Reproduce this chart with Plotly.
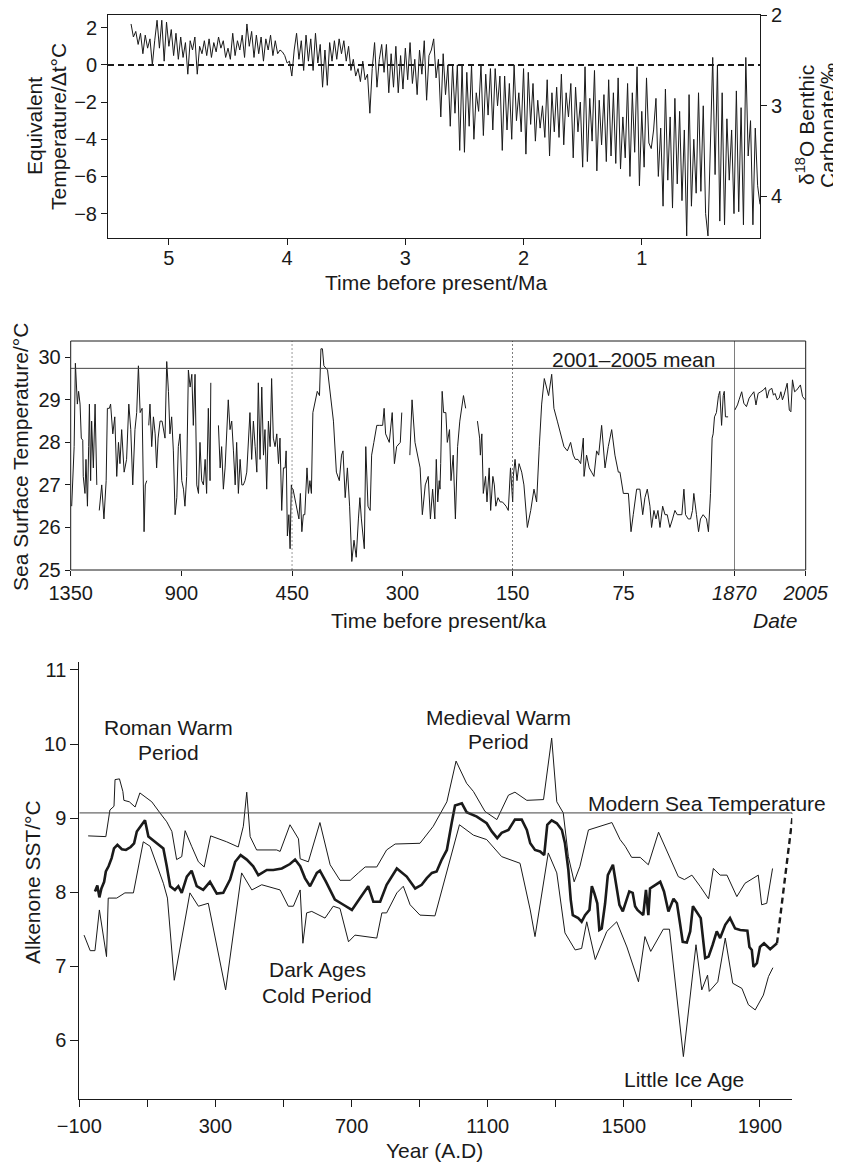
import plotly.graph_objects as go

W, H = 841, 1165          # size of the reference picture
OFF = 8                   # page margin that the browser puts around the figure
WF, HF = W - OFF, H - OFF  # figure size so that figure + margin fills the window
FONT = "Liberation Sans, Arial, Helvetica, sans-serif"
INK = "#1a1a1a"

# ------------------------------------------------------------------ data
# Panel 1: equivalent temperature (delta t, deg C), sampled every 0.02 Ma from 5.32 Ma
top_temp = [
    2.2, 1.5, 1.8, 1.1, 1.7, 0.6, 1.6, 0.9, 1.4, 0.0,
    1.3, 2.4, 0.9, 2.4, 0.2, 2.3, 1.0, 1.9, 0.5, 1.7,
    0.3, 1.5, 0.4, 1.2, -0.5, 1.3, 0.8, 1.5, -0.5, 1.0,
    0.6, 1.3, 0.5, 1.4, 0.4, 1.2, 0.7, 1.5, 0.9, 1.3,
    0.4, 0.9, 0.3, 1.7, 0.5, 1.3, 0.8, 1.6, 0.4, 2.2,
    1.0, 1.8, 0.4, 1.6, 0.6, 1.5, 0.2, 1.4, 0.8, 1.6,
    0.5, 1.3, 0.6, 0.8, 0.7, 0.5, 0.1, 0.2, -0.6, 0.8,
    1.7, 0.3, 1.3, -0.3, 1.6, 0.2, 1.4, -0.3, 1.7, 0.1,
    1.1, -1.2, 0.8, -1.1, 1.2, 0.2, 1.3, 0.3, 1.4, 0.6,
    1.3, 0.2, 1.0, -0.3, 0.3, -0.6, -0.2, -0.9, 0.2, -0.8,
    -0.5, -2.6, -0.2, 1.2, -1.2, 0.3, 1.1, -0.4, 1.1, -1.5,
    0.6, -1.2, 1.0, -1.5, 0.5, -1.3, 0.9, -0.8, 1.2, -1.0,
    0.3, -1.6, 0.8, -0.5, 1.3, -1.9, 0.5, 0.8, 1.4, -0.7,
    0.3, -2.8, 0.6, -1.6, 0.0, -3.3, 0.0, -2.6, 0.0, -4.6,
    0.0, -4.7, -0.4, -3.3, 0.0, -4.0, -1.5, -2.5, 0.0, -3.8,
    -0.5, -2.7, -0.2, -3.5, -0.2, -2.2, -0.6, -4.6, -0.6, -3.5,
    -1.0, -4.0, 0.0, -3.0, -1.5, -3.6, -0.2, -4.8, -0.4, -3.2,
    -1.0, -4.1, -1.9, -3.4, -2.2, -3.9, -0.8, -4.9, -1.5, -3.6,
    -1.2, -3.9, -0.5, -4.3, -1.5, -2.8, -1.0, -5.0, -1.2, -3.6,
    -2.0, -5.5, -0.1, -5.2, -1.8, -4.1, -0.3, -5.7, -1.9, -4.3,
    -1.6, -5.2, -0.8, -4.9, -1.5, -5.3, -0.7, -5.6, -2.8, -5.0,
    -1.0, -6.0, -1.5, -4.7, -0.1, -6.5, -2.5, -5.5, -0.7, -4.2,
    -4.5, -3.5, -1.8, -6.0, -3.4, -7.6, -1.3, -6.2, -2.8, -7.7,
    -1.8, -6.4, -2.5, -7.3, -3.5, -9.2, -1.6, -7.6, -4.0, -6.9,
    -1.5, -6.8, -2.2, -8.0, -9.2, -4.8, 0.4, -5.9, 0.0, -8.4,
    -1.5, -8.6, -2.9, -6.2, -3.5, -8.0, -1.4, -7.9, -2.3, -8.6,
    0.4, -4.9, -3.0, -8.6, -3.4, -6.5, -7.5,
]
top_age_start, top_age_step = 5.32, 0.02
top_age = [round(top_age_start - top_age_step * i, 2) for i in range(len(top_temp))]
top_ref_temp = 0.0

# Panel 2: sea surface temperature, proxy record (ka before present), None = gap
mid_age_ka = [
    1346, 1336, 1331, 1323, 1318, 1312, 1307, 1301, 1299, 1292, 1288, 1282, 1277, 1274, 1269, 1265, 1258, 1251, 1244, None,
    1234, 1224, 1215, 1206, 1201, 1193, 1188, 1179, 1171, 1163, 1156, 1150, 1143, 1133, 1123, 1114, 1106, 1098, 1089, 1082,
    1075, 1068, 1060, 1052, 1047, 1041, None,
    1033, 1028, 1021, 1014, 1007, 1001, 995, 987, 979, 974, 967, 960, 953, 947, 940, 933, 926, 919, 913, 906,
    899, 892, 886, 879, 872, 865, 858, 852, 845, 838, 831, 825, 818, 811, 804, 798, 791, 784, 781, None,
    750, 743, 737, 730, 723, 716, 710, 703, 696, 689, 682, 676, 669, 662, 655, 649, 642, 635, 628, 622,
    615, 608, 601, 594, 588, 581, 574, 567, 561, 554, 547, 540, 534, 527, 520, 513, 506, 500, 493, 486,
    479, 475, 470, 464, 459, 454,
    449, 444, 441, 439, 437, 435, 433, 430, 428, 426, 424, 422, 419, 416, 413, 411, 409, 407, 402, 399,
    394, 390, 386, 383, 381, 378, 375, 372, 369, 366, 363, 360, 358, 356, 352, 350, 347, 344, 342, 339,
    335, 331, 327, 325, 323, 318, 314, 311, 308, 303, 301, None,
    290, 287, 283, 276, 273, 269, 265, 262, 259, 256, 254, 252, 250, 249, 248, 246, 244, 241, 239, 236,
    234, 231, 228, 225, 222, 217, 214, None,
    198, 195, 194, 192, 190, 187, 185, 182, 180, 177, 175, 173, 170, 167, 164, 159, 156, 153, 150,
    149.6, 148.4, 147.1, 145.7, 143.9, 142.4, 140.1, 137.8, 135.6, 133.8, 132.0, 130.4, 128.6, 127.0, 125.7,
    123.6, 122.1, 119.8, 117.6, 115.3, 113.0, 110.8, 109.0, 107.6, 105.8, 104.0, 102.2, 101.7, 100.0, 98.2,
    96.6, 95.0, 93.2, 91.8, 89.8, 87.5, 85.3, 83.0, 80.8, 78.5, 77.4, 75.1, 71.7, 69.9, 68.4, 66.1, 63.9,
    62.0, 60.5, 58.9, 57.1, 56.0, 54.4, 53.0, 51.7, 50.3, 48.5, 46.9, 45.4, 43.6, 41.8, 40.2, 38.6, 36.8,
    35.5, 34.1, 33.0, 31.2, 29.6, 28.3, 27.4, 25.6, 24.2, 22.9, 21.1, 18.8, 17.5, 16.1, 15.0, 14.3, 13.4,
    12.1, 10.7, 9.8, 8.6, 7.5, 6.8, 6.0, 4.2,
]
mid_sst = [
    26.5, 27.9, 29.86, 28.9, 29.2, 28.9, 28.1, 28.05, 27.2, 26.8, 27.6, 26.5, 27.9, 28.9, 27.1, 28.5, 27.4, 28.9, 27.0, None,
    26.4, 27.0, 26.2, 27.1, 28.8, 28.8, 28.9, 28.2, 28.6, 27.2, 28.0, 27.5, 28.3, 27.3, 27.6, 28.9, 28.3, 27.0, 28.3, 28.7,
    29.8, 28.7, 28.8, 25.9, 27.0, 27.1, None,
    28.4, 28.9, 27.9, 28.6, 28.2, 27.4, 28.1, 28.5, 28.5, 28.3, 28.1, 29.9, 29.2, 28.2, 28.6, 27.8, 26.3, 26.7, 27.9, 28.2,
    27.1, 26.9, 26.5, 27.2, 29.7, 29.3, 29.6, 28.4, 29.6, 27.0, 26.8, 28.0, 27.1, 27.0, 27.6, 26.8, 28.8, 27.1, 29.4, None,
    28.4, 27.4, 27.9, 26.9, 27.4, 28.5, 29.0, 28.3, 28.5, 27.8, 27.0, 28.0, 26.8, 27.6, 27.0, 27.0, 27.1, 27.3, 28.1, 28.7,
    27.6, 28.5, 27.9, 27.3, 29.4, 27.6, 29.3, 27.7, 28.3, 26.9, 28.5, 27.9, 29.5, 28.1, 27.9, 28.2, 27.5, 28.1, 26.4, 27.4,
    27.4, 27.8, 25.8, 26.3, 25.5, 27.0,
    26.9, 26.5, 26.2, 26.8, 25.9, 26.3, 26.3, 27.4, 26.8, 27.1, 26.8, 28.7, 29.0, 29.2, 29.1, 30.2, 30.2, 29.8, 29.7, 29.2,
    28.5, 27.3, 27.1, 27.7, 27.8, 26.7, 27.4, 26.5, 25.2, 25.7, 25.3, 26.2, 26.7, 26.2, 25.5, 27.9, 26.5, 26.4, 27.7, 28.0,
    28.4, 28.4, 28.4, 28.8, 28.2, 28.0, 28.7, 27.5, 27.9, 28.0, 28.7, None,
    27.7, 29.0, 28.0, 27.4, 26.3, 27.0, 27.2, 26.2, 26.9, 26.2, 27.6, 26.6, 27.1, 26.9, 27.5, 29.2, 28.7, 28.7, 28.0, 28.3,
    27.1, 27.7, 26.2, 27.9, 28.5, 29.1, 28.8, None,
    28.5, 28.1, 27.7, 28.2, 26.8, 27.2, 26.6, 27.4, 26.4, 27.2, 27.0, 26.5, 26.7, 26.6, 26.6, 26.5, 26.4, 27.4, 26.6,
    27.2, 27.6, 27.1, 27.5, 27.3, 27.0, 26.0, 26.4, 26.9, 26.6, 27.9, 28.9, 29.5, 29.3, 29.1,
    29.6, 28.8, 28.5, 28.2, 27.9, 27.8, 28.0, 27.7, 27.6, 27.6, 27.5, 28.1, 27.2, 27.7, 27.4,
    27.3, 27.2, 27.8, 27.7, 28.4, 27.4, 27.9, 28.3, 27.7, 27.3, 27.3, 26.8, 26.8, 25.9, 26.3, 26.9, 26.9,
    26.3, 26.7, 26.9, 26.5, 26.0, 26.4, 26.2, 26.4, 26.0, 26.5, 26.3, 26.3, 26.0, 26.2, 26.4, 26.3, 26.3,
    26.3, 26.9, 26.3, 26.2, 26.2, 26.4, 26.8, 26.3, 25.9, 26.2, 26.3, 26.2, 25.9, 26.8, 28.1, 28.2, 28.6,
    28.7, 29.1, 29.2, 28.4, 29.1, 29.2, 28.6, 28.6,
]
# Panel 2: instrumental record (calendar years)
mid_year = [1871, 1876, 1879, 1884, 1888, 1893, 1898, 1903, 1907, 1911, 1915, 1920, 1925, 1929, 1932, 1936,
            1941, 1944, 1947, 1951, 1955, 1958, 1961, 1964, 1967, 1970, 1974, 1977, 1980, 1984, 1988, 1992,
            1995, 1999, 2004]
mid_year_sst = [28.76, 28.88, 29.0, 29.19, 28.92, 28.84, 29.04, 29.11, 29.19, 28.88, 29.15, 29.19, 29.23, 29.29,
                29.04, 29.23, 29.27, 29.11, 29.15, 29.0, 29.04, 29.19, 29.0, 29.11, 29.23, 29.39, 28.76, 28.72,
                29.47, 29.19, 29.23, 29.31, 29.35, 29.08, 29.0]
mid_mean_2001_2005 = 29.74

# Panel 3: alkenone SST (A.D.)
upper_year = [-74, -22, -10, 2, 5, 18, 28, 31, 47, 64, 78, 113, 137, 157, 172, 186, 201, 211, 230, 250,
              267, 286, 333, 367, 382, 392, 402, 421, 480, 490, 519, 544, 549, 573, 607, 637, 666, 696, 720, 740,
              774, 803, 828, 901, 940, 980, 1007, 1038, 1058, 1092, 1127, 1161, 1180, 1215, 1264, 1288, 1303, 1322,
              1337, 1354, 1371, 1396, 1465, 1489, 1504, 1523, 1548, 1572, 1602, 1626, 1646, 1660, 1678, 1700, 1724,
              1749, 1763, 1783, 1803, 1827, 1832, 1856, 1881, 1895, 1905, 1920, 1937]
upper_sst = [8.76, 8.75, 9.11, 9.16, 9.52, 9.53, 9.36, 9.24, 9.22, 9.15, 9.34, 9.22, 9.07, 8.95, 8.82, 8.44, 8.48,
             8.83, 8.62, 8.41, 8.34, 8.76, 8.68, 8.61, 8.89, 9.35, 8.75, 8.57, 8.57, 8.55, 8.91, 8.72, 8.45, 8.41,
             8.94, 8.37, 8.16, 8.16, 8.26, 8.34, 8.34, 8.57, 8.65, 8.66, 8.89, 9.22, 9.77, 9.47, 9.36, 9.09, 8.98,
             9.31, 9.35, 9.24, 9.25, 10.08, 9.22, 9.07, 8.48, 8.14, 8.35, 8.84, 8.94, 8.71, 8.62, 8.47, 8.47, 8.37,
             8.81, 8.57, 8.37, 8.21, 8.17, 8.23, 8.08, 7.91, 8.32, 8.23, 8.23, 7.99, 7.94, 8.12, 8.19, 8.23, 7.83,
             7.85, 8.32]
lower_year = [-86, -68, -54, -41, -20, -15, 10, 34, 59, 88, 108, 132, 147, 159, 179, 225, 250, 279, 330, 377,
              407, 436, 490, 514, 529, 549, 557, 568, 583, 622, 646, 666, 691, 710, 740, 774, 789, 803, 833, 852,
              872, 901, 945, 980, 1017, 1058, 1097, 1141, 1195, 1225, 1239, 1278, 1303, 1327, 1357, 1376, 1391,
              1416, 1450, 1479, 1509, 1543, 1562, 1579, 1616, 1634, 1675, 1712, 1729, 1746, 1751, 1776, 1798, 1820,
              1847, 1866, 1886, 1910, 1925, 1938]
lower_sst = [7.42, 7.21, 7.21, 7.76, 7.13, 7.92, 7.92, 7.99, 7.99, 8.68, 8.62, 8.30, 8.12, 7.92, 6.81, 7.99, 7.81,
             7.85, 6.68, 8.26, 8.03, 8.10, 8.03, 7.81, 7.81, 8.03, 7.31, 7.72, 7.74, 7.65, 7.81, 7.78, 7.33, 7.42,
             7.40, 7.38, 7.72, 7.72, 7.99, 8.08, 7.83, 7.69, 7.68, 8.26, 8.91, 8.77, 8.71, 8.48, 8.39, 7.76, 7.40,
             8.53, 8.26, 7.45, 7.22, 7.24, 7.60, 7.09, 7.47, 7.60, 7.26, 6.79, 7.40, 7.20, 7.50, 7.50, 5.78, 7.29,
             6.68, 6.88, 6.66, 6.79, 7.38, 6.77, 6.70, 6.48, 6.41, 6.61, 6.86, 6.98]
mean_year = [-54, -47, -41, -35, -27, -22, -14, -5, 2, 12, 25, 37, 51, 61, 69, 83, 93, 103, 128, 147,
             157, 167, 181, 191, 201, 216, 230, 245, 264, 284, 304, 323, 343, 358, 374, 392, 411, 426, 451, 470,
             495, 519, 534, 549, 563, 578, 598, 607, 625, 651, 676, 701, 725, 749, 764, 784, 803, 833, 862, 887,
             906, 921, 936, 950, 965, 980, 994, 1004, 1024, 1038, 1068, 1097, 1112, 1128, 1141, 1161, 1180, 1200,
             1215, 1225, 1239, 1254, 1266, 1275, 1288, 1303, 1318, 1327, 1337, 1344, 1350, 1366, 1376, 1386,
             1399, 1406, 1413, 1422, 1428, 1435, 1445, 1453, 1468, 1477, 1487, 1497, 1507, 1516, 1526, 1533,
             1540, 1557, 1565, 1572, 1577, 1587, 1607, 1618, 1631, 1646, 1656, 1665, 1673, 1685, 1695, 1703,
             1714, 1726, 1739, 1749, 1761, 1773, 1783, 1798, 1812, 1827, 1842, 1863, 1869, 1876, 1881, 1891,
             1900, 1912, 1930, 1950]
mean_sst = [8.01, 8.09, 7.93, 8.05, 8.14, 8.28, 8.35, 8.46, 8.59, 8.64, 8.58, 8.57, 8.61, 8.66, 8.82, 8.91, 8.97,
            8.75, 8.66, 8.59, 8.35, 8.08, 8.03, 8.08, 7.99, 8.21, 8.29, 8.08, 8.03, 8.14, 7.98, 7.99, 8.17, 8.41,
            8.50, 8.44, 8.35, 8.23, 8.30, 8.30, 8.32, 8.38, 8.44, 8.35, 8.19, 8.08, 8.26, 8.29, 8.14, 7.90, 7.83,
            7.76, 7.92, 8.08, 7.87, 7.87, 8.10, 8.32, 8.21, 8.05, 8.10, 8.19, 8.26, 8.28, 8.44, 8.57, 8.93, 9.17,
            9.20, 9.08, 9.02, 8.93, 8.82, 8.73, 8.80, 8.84, 8.98, 8.98, 8.84, 8.66, 8.57, 8.55, 8.50, 8.91, 8.97,
            8.93, 8.84, 8.66, 8.30, 7.90, 7.69, 7.65, 7.60, 7.69, 7.76, 8.08, 7.99, 7.85, 7.49, 7.51, 7.85, 8.23,
            8.37, 8.08, 7.83, 7.74, 7.87, 8.01, 7.99, 7.81, 7.76, 7.69, 8.03, 7.69, 8.05, 8.08, 8.14, 8.01, 7.74,
            7.91, 7.85, 7.58, 7.33, 7.32, 7.47, 7.81, 7.74, 7.65, 7.11, 7.13, 7.29, 7.47, 7.38, 7.56, 7.65, 7.51,
            7.49, 7.48, 7.26, 7.22, 6.99, 7.04, 7.26, 7.31, 7.23, 7.31]
link_year = [1950, 1997]
link_sst = [7.31, 9.07]
modern_sst = 9.07


# ------------------------------------------------------------------ helpers
def fx(px):
    """reference-picture x pixel -> paper fraction"""
    return (px - OFF) / WF


def fy(py):
    """reference-picture y pixel -> paper fraction"""
    return 1 - (py - OFF) / HF


TICKF = dict(family=FONT, size=20, color=INK)
TXT = dict(family=FONT, size=21, color=INK)


def ax_common(**kw):
    d = dict(showgrid=False, zeroline=False, ticks="outside", tickcolor=INK, tickwidth=1,
             linecolor=INK, linewidth=1, tickfont=TICKF, fixedrange=True, automargin=False,
             ticklabeloverflow="allow")
    d.update(kw)
    return d


def minus(v):
    return str(v).replace("-", "\u2212")


fig = go.Figure()

# ---- panel 1
fig.add_trace(go.Scatter(x=top_age, y=top_temp, mode="lines", line=dict(color=INK, width=1),
                         xaxis="x", yaxis="y", hoverinfo="skip"))
fig.add_trace(go.Scatter(x=[5, 0], y=[2, 4], mode="lines", line=dict(width=0), opacity=0,
                         xaxis="x", yaxis="y7", hoverinfo="skip"))

# ---- panel 2 (same proxy record drawn on the three broken-scale segments)
for xa in ["x2", "x3", "x4"]:
    fig.add_trace(go.Scatter(x=mid_age_ka, y=mid_sst, mode="lines", connectgaps=False,
                             line=dict(color=INK, width=1), xaxis=xa, yaxis="y2", hoverinfo="skip"))
fig.add_trace(go.Scatter(x=mid_year, y=mid_year_sst, mode="lines", line=dict(color=INK, width=1),
                         xaxis="x5", yaxis="y2", hoverinfo="skip"))

# ---- panel 3
fig.add_trace(go.Scatter(x=upper_year, y=upper_sst, mode="lines", line=dict(color=INK, width=1),
                         xaxis="x6", yaxis="y6", hoverinfo="skip"))
fig.add_trace(go.Scatter(x=lower_year, y=lower_sst, mode="lines", line=dict(color=INK, width=1),
                         xaxis="x6", yaxis="y6", hoverinfo="skip"))
fig.add_trace(go.Scatter(x=mean_year, y=mean_sst, mode="lines", line=dict(color=INK, width=2.6),
                         xaxis="x6", yaxis="y6", hoverinfo="skip"))
fig.add_trace(go.Scatter(x=link_year, y=link_sst, mode="lines",
                         line=dict(color=INK, width=2.4, dash="6px,4px"),
                         xaxis="x6", yaxis="y6", hoverinfo="skip"))

# ------------------------------------------------------------------ axes
top_yt = [-8, -6, -4, -2, 0, 2]
layout = dict(
    template="none",
    width=WF, height=HF, autosize=False, showlegend=False,
    margin=dict(l=0, r=0, t=0, b=0, pad=0, autoexpand=False),
    paper_bgcolor="white", plot_bgcolor="white",
    font=dict(family=FONT, color=INK),
    # panel 1
    xaxis=ax_common(domain=[fx(108), fx(760)], range=[5.515, 0.0], anchor="y",
                    tickvals=[5, 4, 3, 2, 1], ticklen=6, showline=True, mirror=True,
                    ticklabelstandoff=-4),
    yaxis=ax_common(domain=[fy(238), fy(14.5)], range=[-9.31, 2.71], anchor="x",
                    tickvals=top_yt, ticktext=[minus(v) for v in top_yt], ticklen=6,
                    showline=True, mirror=True),
    yaxis7=ax_common(overlaying="y", side="right", anchor="x", range=[4.464, 1.994],
                     tickvals=[2, 3, 4], ticklen=6, showline=False),
    # panel 2
    yaxis2=ax_common(domain=[fy(570), fy(341)], range=[25, 30.383], anchor="x2",
                     tickvals=[25, 26, 27, 28, 29, 30], ticklen=5, showline=False),
    xaxis2=ax_common(domain=[fx(70.7), fx(292.3)], range=[1350, 450], anchor="y2",
                     tickvals=[1350, 900, 450], ticklen=5, showline=False),
    xaxis3=ax_common(domain=[fx(292.3), fx(512.7)], range=[450, 150], anchor="y2",
                     tickvals=[300], ticklen=5, showline=False),
    xaxis4=ax_common(domain=[fx(512.7), fx(734.3)], range=[150, 0], anchor="y2",
                     tickvals=[150, 75], ticklen=5, showline=False),
    xaxis5=ax_common(domain=[fx(734.3), fx(805.7)], range=[1870, 2005], anchor="y2",
                     tickvals=[1870, 2005], ticktext=["<i>1870</i>", "<i>2005</i>"],
                     ticklen=5, showline=False),
    # panel 3
    xaxis6=ax_common(domain=[fx(79.3), fx(792.3)], range=[-100, 1995], anchor="y6",
                     tickvals=[-100, 300, 700, 1100, 1500, 1900],
                     ticktext=["\u2212100", "300", "700", "1100", "1500", "1900"],
                     ticklen=7, showline=True, ticklabelstandoff=2,
                     minor=dict(tickmode="array", tickvals=[100, 500, 900, 1300, 1700],
                                ticks="outside", ticklen=7, tickcolor=INK, tickwidth=1,
                                showgrid=False)),
    yaxis6=ax_common(domain=[fy(1099.3), fy(661.7)], range=[5.203, 11.112], anchor="x6",
                     tickvals=[6, 7, 8, 9, 10, 11], ticklen=8, showline=True),
)

shapes = [
    # panel 1 zero reference
    dict(type="line", xref="x domain", x0=0, x1=1, yref="y", y0=top_ref_temp, y1=top_ref_temp,
         line=dict(color=INK, width=2, dash="6px,4px")),
    # panel 2 frame
    dict(type="rect", xref="paper", yref="paper", x0=fx(70.7), x1=fx(805.7), y0=fy(570), y1=fy(341),
         line=dict(color=INK, width=1)),
    dict(type="line", xref="x2", x0=450, x1=450, yref="y2 domain", y0=0, y1=1,
         line=dict(color=INK, width=1, dash="2px,2px")),
    dict(type="line", xref="x3", x0=150, x1=150, yref="y2 domain", y0=0, y1=1,
         line=dict(color=INK, width=1, dash="2px,2px")),
    dict(type="line", xref="x5", x0=1870, x1=1870, yref="y2 domain", y0=0, y1=1,
         line=dict(color=INK, width=1)),
    dict(type="line", xref="paper", x0=fx(70.7), x1=fx(805.7), yref="y2",
         y0=mid_mean_2001_2005, y1=mid_mean_2001_2005, line=dict(color="#444", width=1)),
    # panel 3 modern sea temperature
    dict(type="line", xref="x6", x0=-100, x1=1995, yref="y6", y0=modern_sst, y1=modern_sst,
         line=dict(color="#444", width=1)),
]
layout["shapes"] = shapes


def note(text, x, y, rot=0, xanchor="center", italic=False):
    if italic:
        text = "<i>" + text + "</i>"
    return dict(text=text, x=fx(x), y=fy(y), xref="paper", yref="paper", showarrow=False,
                xanchor=xanchor, yanchor="middle", textangle=rot, font=TXT)


layout["annotations"] = [
    note("Equivalent", 34, 126, -90),
    note("Temperature/\u0394t\u00b0C", 58, 127, -90),
    note("\u03b4<sup>18</sup>O Benthic", 805, 125, -90),
    note("Carbonate/\u2030", 827, 126, -90),
    note("Time before present/Ma", 436, 282),
    note("Sea Surface Temperature/\u00b0C", 20, 457, -90),
    note("2001\u20132005 mean", 633, 359),
    note("Time before present/ka", 439, 620),
    note("Date", 775, 620, italic=True),
    note("Roman Warm", 168, 727),
    note("Period", 168, 752),
    note("Medieval Warm", 498, 717),
    note("Period", 498, 741),
    note("Modern Sea Temperature", 585.7, 803, xanchor="left"),
    note("Dark Ages", 317, 969),
    note("Cold Period", 317, 995),
    note("Little Ice Age", 684, 1079),
    note("Alkenone SST/\u00b0C", 32, 882, -90),
    note("Year (A.D)", 434, 1150),
]

fig.update_layout(**layout)
fig.write_html("out.html")
